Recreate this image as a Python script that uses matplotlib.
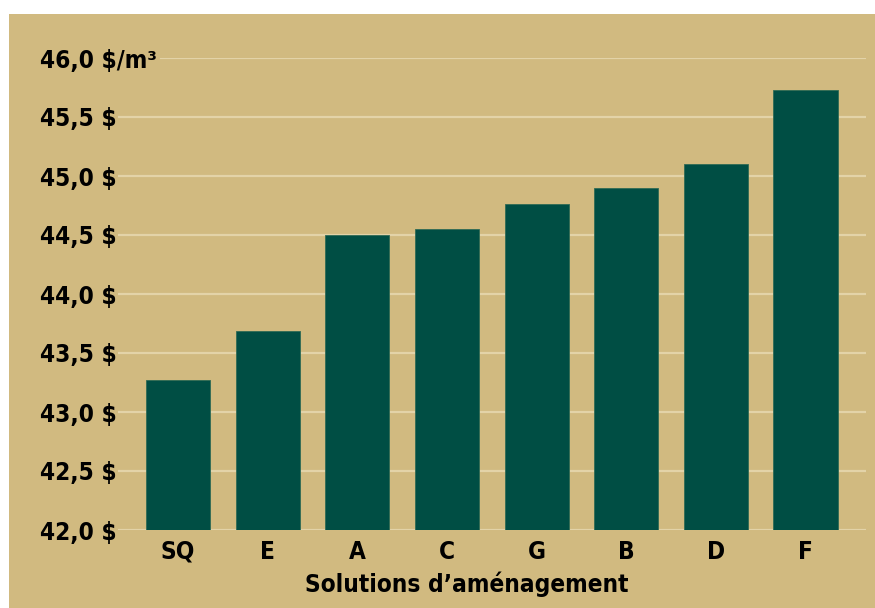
import numpy as np
import matplotlib.pyplot as plt
from matplotlib.patches import Rectangle

# Données
solutions = ['SQ', 'E', 'A', 'C', 'G', 'B', 'D', 'F']
couts = [43.27, 43.69, 44.50, 44.55, 44.76, 44.90, 45.10, 45.73]
graduations = [42.0, 42.5, 43.0, 43.5, 44.0, 44.5, 45.0, 45.5, 46.0]
etiquettes = ['42,0 $', '42,5 $', '43,0 $', '43,5 $', '44,0 $', '44,5 $',
              '45,0 $', '45,5 $', '46,0 $/m³']

fond = '#D1BA80'
vert = '#004E44'
grille = '#E3D3A8'

plt.rcParams['font.family'] = ['DejaVu Sans']
plt.rcParams['font.weight'] = 'bold'
plt.rcParams['font.stretch'] = 'condensed'

fig = plt.figure(figsize=(8.75, 6.08), dpi=100)
fig.patch.set_facecolor('white')
fig.add_artist(Rectangle((9 / 875, 0), 1, (608 - 14) / 608,
                         transform=fig.transFigure, facecolor=fond,
                         edgecolor='none', zorder=-5))

ax = fig.add_axes([118 / 875, 78 / 608, 748 / 875, 472 / 608])
ax.set_facecolor('none')
ax.set_zorder(1)

# lignes de grille (la dernière commence après l'étiquette)
for g in graduations:
    debut = 0.058 if g == graduations[-1] else 0
    ax.axhline(g, xmin=debut, xmax=1, color=grille, linewidth=1.6, zorder=1)

x = np.arange(len(solutions))
ax.bar(x, np.array(couts) - 42.0, bottom=42.0, width=0.715, color=vert,
       edgecolor='#2F6A55', linewidth=0.6, zorder=2)

ax.set_xlim(-0.669, 7.675)
ax.set_ylim(42.0, 46.0)

ax.set_yticks(graduations)
ax.set_yticklabels(etiquettes, ha='left')
ax.tick_params(axis='y', length=0, pad=56, labelsize=17.5)
ax.set_xticks(x)
ax.set_xticklabels(solutions)
ax.tick_params(axis='x', length=0, pad=7, labelsize=17.5)

ax.set_xlabel('Solutions d’aménagement', fontsize=17.5, fontweight='bold')
ax.xaxis.set_label_coords(0.4666, -0.088)

for s in ax.spines.values():
    s.set_visible(False)

fig.savefig('out.png', dpi=100)
